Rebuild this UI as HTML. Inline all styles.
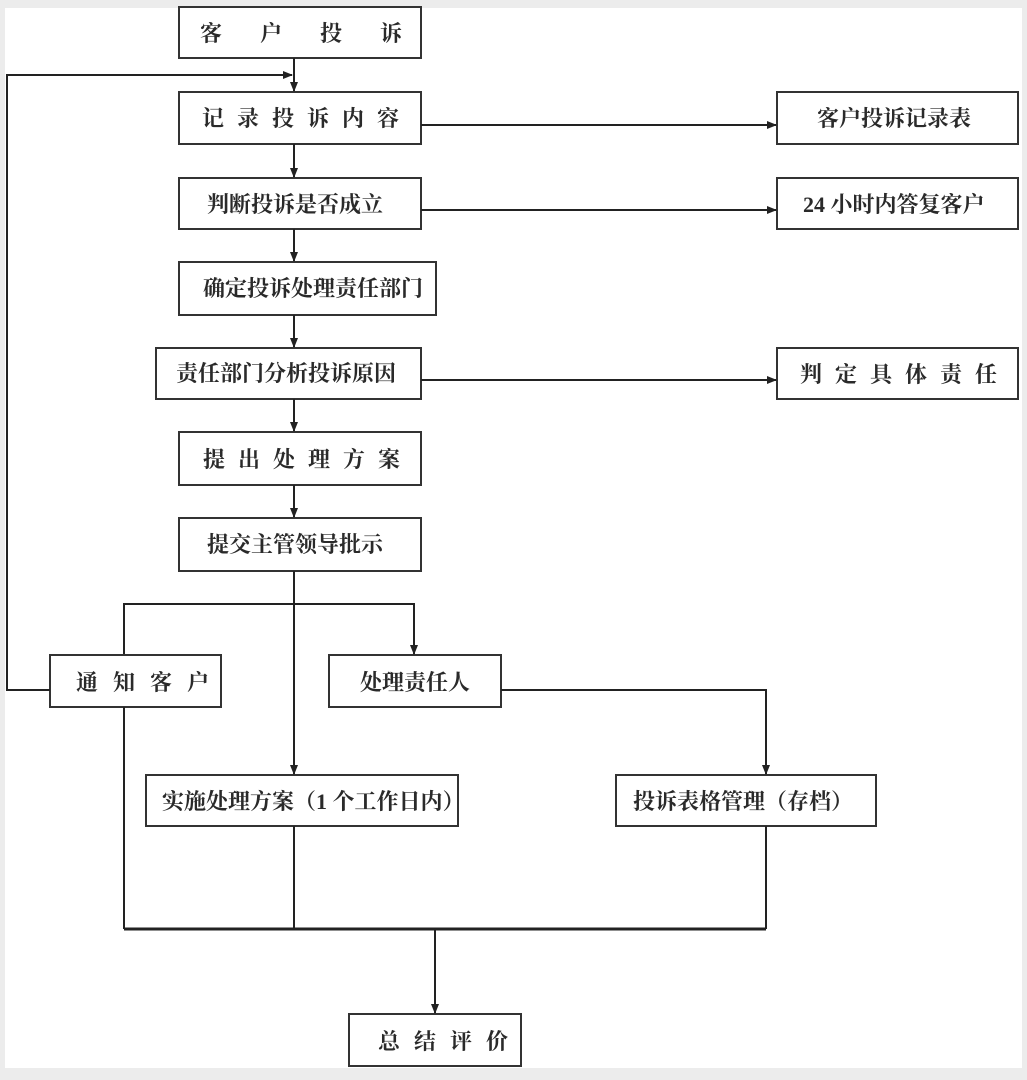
<!DOCTYPE html>
<html><head><meta charset="utf-8"><style>
html,body{margin:0;padding:0;background:#ececec;}
svg{display:block;}
text{font-family:"Liberation Serif","Noto Serif CJK SC","Noto Sans CJK SC",serif;font-weight:bold;font-size:22px;fill:#2a2a2a;}
</style></head><body>
<svg width="1027" height="1080" viewBox="0 0 1027 1080" xmlns="http://www.w3.org/2000/svg">
<defs><marker id="a" markerWidth="10" markerHeight="10" refX="9" refY="5" orient="auto" markerUnits="userSpaceOnUse"><path d="M0,1 L10,5 L0,9 Z" fill="#222"/></marker></defs>
<rect x="5" y="8" width="1017" height="1060" fill="#fff"/>
<g fill="#fff" stroke="#333" stroke-width="2">
<rect x="179" y="7" width="242" height="51"/>
<rect x="179" y="92" width="242" height="52"/>
<rect x="777" y="92" width="241" height="52"/>
<rect x="179" y="178" width="242" height="51"/>
<rect x="777" y="178" width="241" height="51"/>
<rect x="179" y="262" width="257" height="53"/>
<rect x="156" y="348" width="265" height="51"/>
<rect x="777" y="348" width="241" height="51"/>
<rect x="179" y="432" width="242" height="53"/>
<rect x="179" y="518" width="242" height="53"/>
<rect x="50" y="655" width="171" height="52"/>
<rect x="329" y="655" width="172" height="52"/>
<rect x="146" y="775" width="312" height="51"/>
<rect x="616" y="775" width="260" height="51"/>
<rect x="349" y="1014" width="172" height="52"/>
</g>
<g stroke="#222" stroke-width="2" fill="none">
<line x1="294" y1="58" x2="294" y2="91" marker-end="url(#a)"/>
<polyline points="50,690 7,690 7,75 292,75" marker-end="url(#a)"/>
<line x1="421" y1="125" x2="776" y2="125" marker-end="url(#a)"/>
<line x1="294" y1="144" x2="294" y2="177" marker-end="url(#a)"/>
<line x1="421" y1="210" x2="776" y2="210" marker-end="url(#a)"/>
<line x1="294" y1="229" x2="294" y2="261" marker-end="url(#a)"/>
<line x1="294" y1="315" x2="294" y2="347" marker-end="url(#a)"/>
<line x1="421" y1="380" x2="776" y2="380" marker-end="url(#a)"/>
<line x1="294" y1="399" x2="294" y2="431" marker-end="url(#a)"/>
<line x1="294" y1="485" x2="294" y2="517" marker-end="url(#a)"/>
<line x1="294" y1="571" x2="294" y2="774" marker-end="url(#a)"/>
<polyline points="124,654 124,604 414,604 414,654" marker-end="url(#a)"/>
<polyline points="501,690 766,690 766,774" marker-end="url(#a)"/>
<line x1="124" y1="707" x2="124" y2="929"/>
<line x1="294" y1="826" x2="294" y2="929"/>
<line x1="766" y1="826" x2="766" y2="929"/>
<line x1="124" y1="929" x2="766" y2="929" stroke-width="3"/>
<line x1="435" y1="929" x2="435" y2="1013" marker-end="url(#a)"/>
</g>
<g>
<text x="200" y="41" letter-spacing="38">客户投诉</text>
<text x="202" y="126" letter-spacing="13">记录投诉内容</text>
<text x="817" y="126">客户投诉记录表</text>
<text x="207" y="212">判断投诉是否成立</text>
<text x="803" y="212">24 小时内答复客户</text>
<text x="203" y="296">确定投诉处理责任部门</text>
<text x="176" y="381">责任部门分析投诉原因</text>
<text x="800" y="382" letter-spacing="13">判定具体责任</text>
<text x="203" y="467" letter-spacing="13">提出处理方案</text>
<text x="207" y="552">提交主管领导批示</text>
<text x="76" y="690" letter-spacing="15">通知客户</text>
<text x="360" y="690">处理责任人</text>
<text x="162" y="809">实施处理方案（1 个工作日内）</text>
<text x="633" y="809">投诉表格管理（存档）</text>
<text x="378" y="1049" letter-spacing="14">总结评价</text>
</g>
</svg>
</body></html>
